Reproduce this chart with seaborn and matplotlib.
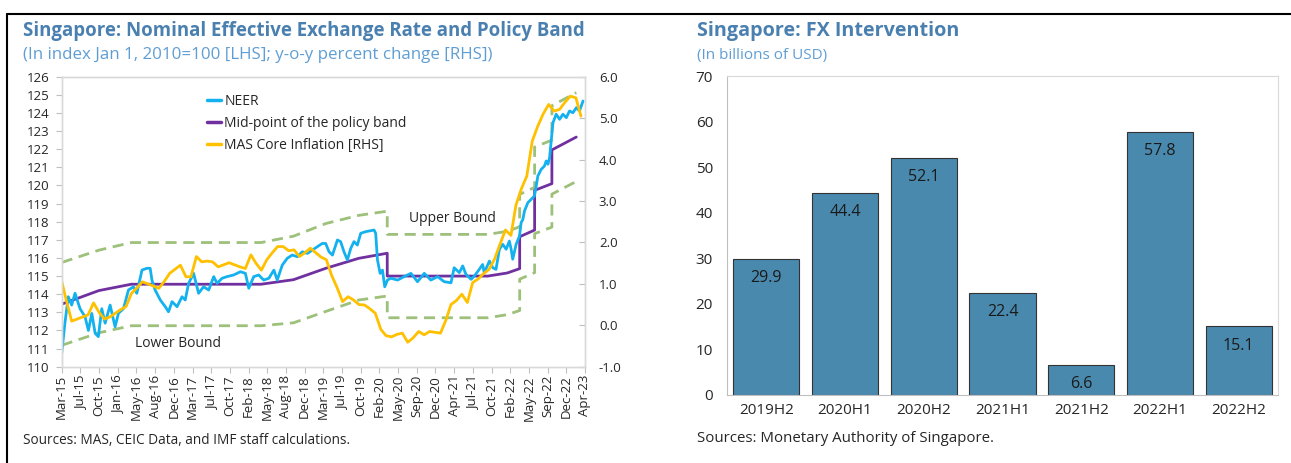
import numpy as np
import pandas as pd
import seaborn as sns
import matplotlib.pyplot as plt
import matplotlib.dates as mdates
from matplotlib.lines import Line2D

# ---------------- left panel data ----------------
neer_dates = [
    "2015-03-20", "2015-04-07", "2015-04-26", "2015-05-15", "2015-06-03", "2015-07-01",
    "2015-07-29", "2015-08-17", "2015-09-05", "2015-09-24", "2015-10-12", "2015-10-31",
    "2015-11-19", "2015-12-17", "2016-01-14", "2016-02-02", "2016-03-01", "2016-03-29",
    "2016-04-26", "2016-05-15", "2016-06-13", "2016-07-11", "2016-07-29", "2016-08-08",
    "2016-08-26", "2016-09-24", "2016-10-22", "2016-11-09", "2016-11-29", "2016-12-27",
    "2017-01-24", "2017-02-11", "2017-03-02", "2017-03-30", "2017-04-27", "2017-05-25",
    "2017-06-23", "2017-07-21", "2017-08-09", "2017-09-06", "2017-10-04", "2017-11-10",
    "2017-12-18", "2018-01-15", "2018-02-03", "2018-03-03", "2018-03-31", "2018-04-28",
    "2018-05-27", "2018-06-24", "2018-07-13", "2018-08-10", "2018-09-07", "2018-10-05",
    "2018-11-03", "2018-12-01", "2018-12-29", "2019-01-26", "2019-02-23", "2019-03-23",
    "2019-04-11", "2019-04-30", "2019-05-19", "2019-06-16", "2019-07-04", "2019-07-23",
    "2019-08-11", "2019-08-30", "2019-09-17", "2019-10-06", "2019-10-25", "2019-11-22",
    "2019-12-20", "2020-01-08", "2020-01-17", "2020-01-27", "2020-02-11", "2020-02-24",
    "2020-03-08", "2020-03-23", "2020-04-11", "2020-05-19", "2020-06-25", "2020-08-02",
    "2020-09-08", "2020-10-16", "2020-11-22", "2020-12-30", "2021-02-05", "2021-03-15",
    "2021-04-02", "2021-05-01", "2021-05-20", "2021-06-07", "2021-07-06", "2021-07-24",
    "2021-08-21", "2021-09-09", "2021-09-18", "2021-10-17", "2021-11-05", "2021-11-23",
    "2021-12-12", "2021-12-31", "2022-01-19", "2022-02-06", "2022-02-16", "2022-02-25",
    "2022-03-16", "2022-04-04", "2022-04-13", "2022-04-23", "2022-05-02", "2022-05-21",
    "2022-06-09", "2022-06-27", "2022-07-07", "2022-07-16", "2022-08-04", "2022-08-22",
    "2022-09-01", "2022-09-11", "2022-09-20", "2022-10-09", "2022-10-27", "2022-11-15",
    "2022-12-04", "2022-12-23", "2023-01-10", "2023-01-29", "2023-02-17", "2023-03-07",
    "2023-03-27",
]
neer_values = [
    110.74, 112.40, 113.86, 113.40, 114.05, 113.20,
    112.76, 112.00, 112.94, 111.84, 111.66, 113.20,
    112.40, 113.40, 112.20, 112.95, 113.20, 114.23,
    114.41, 114.05, 115.33, 115.43, 115.43, 114.78,
    114.23, 113.68, 113.31, 113.03, 113.59, 113.31,
    113.86, 113.68, 114.60, 115.15, 114.05, 114.41,
    114.23, 114.97, 114.60, 114.88, 114.97, 115.06,
    115.24, 115.15, 114.33, 114.97, 115.06, 114.78,
    114.88, 115.33, 114.78, 115.60, 115.98, 116.16,
    116.07, 116.34, 116.25, 116.43, 116.62, 116.80,
    116.80, 116.34, 116.16, 116.99, 116.90, 116.34,
    115.89, 116.53, 116.90, 116.71, 117.36, 117.45,
    117.50, 117.54, 117.36, 115.89, 115.15, 115.33,
    114.41, 114.78, 114.88, 114.78, 114.97, 115.15,
    114.69, 115.15, 114.78, 114.97, 114.69, 114.63,
    115.46, 115.19, 115.56, 115.10, 114.82, 115.00,
    115.37, 115.64, 115.19, 115.83, 115.46, 115.37,
    116.48, 116.75, 116.48, 116.93, 116.48, 115.93,
    116.75, 117.21, 117.94, 118.13, 118.59, 119.05,
    119.24, 119.42, 119.97, 120.52, 120.89, 121.07,
    121.35, 121.17, 121.53, 123.46, 123.93, 123.65,
    123.93, 123.74, 124.11, 124.01, 124.29, 124.11,
    124.66,
]

core_months = pd.date_range("2015-03-01", "2023-03-01", freq="MS")
core_inflation = [
    1.15, 0.60, 0.10, 0.15, 0.20, 0.25, 0.54, 0.32, 0.15, 0.20, 0.29, 0.38,
    0.45, 0.77, 0.90, 1.05, 1.00, 0.95, 0.89, 1.05, 1.25, 1.35, 1.45, 1.17,
    1.17, 1.66, 1.53, 1.55, 1.53, 1.41, 1.46, 1.51, 1.46, 1.41, 1.37, 1.70,
    1.50, 1.33, 1.58, 1.75, 1.90, 1.90, 1.80, 1.82, 1.66, 1.75, 1.86, 1.75,
    1.65, 1.58, 1.20, 0.90, 0.57, 0.69, 0.61, 0.50, 0.49, 0.40, 0.29, -0.10,
    -0.25, -0.28, -0.22, -0.19, -0.41, -0.30, -0.15, -0.23, -0.15, -0.17, -0.19, 0.13,
    0.50, 0.60, 0.75, 0.55, 1.03, 1.12, 1.25, 1.35, 1.60, 1.95, 2.30, 2.17,
    2.90, 3.30, 3.60, 4.45, 4.80, 5.10, 5.33, 5.17, 5.21, 5.38, 5.53, 5.49,
    5.05,
]

band_dates = [
    "2015-03-20", "2015-10-15", "2016-04-14", "2018-04-13", "2018-10-12", "2019-04-12",
    "2019-10-14", "2020-03-22", "2020-03-22", "2021-10-08", "2022-01-25", "2022-04-05",
    "2022-04-05", "2022-06-28", "2022-06-28", "2022-10-03", "2022-10-03", "2023-02-17",
]
band_mid = [
    113.45, 114.20, 114.55, 114.55, 114.80, 115.43,
    115.98, 116.26, 115.00, 115.00, 115.17, 115.41,
    117.17, 117.54, 119.73, 120.10, 121.96, 122.67,
]
band_upper = [
    115.75, 116.43, 116.85, 116.85, 117.20, 117.90,
    118.35, 118.58, 117.30, 117.30, 117.47, 117.72,
    119.51, 119.89, 122.12, 122.50, 124.40, 125.12,
]
band_lower = [
    111.18, 111.87, 112.26, 112.26, 112.42, 113.05,
    113.68, 113.90, 112.70, 112.70, 112.87, 113.10,
    114.83, 115.19, 117.34, 117.70, 119.52, 120.22,
]

# ---------------- right panel data ----------------
fx_periods = ["2019H2", "2020H1", "2020H2", "2021H1", "2021H2", "2022H1", "2022H2"]
fx_values = [29.9, 44.4, 52.1, 22.4, 6.6, 57.8, 15.1]

# ---------------- styling ----------------
sns.set_style("white")
plt.rcParams["font.family"] = ["Open Sans", "DejaVu Sans"]

TITLE_C = "#4A80B0"
SUB_C = "#5F9ED4"
NEER_C = "#14B1EF"
MID_C = "#7030A0"
INFL_C = "#FFC000"
BAND_C = "#9DC07A"
SPINE_C = "#D9D9D9"
BAR_C = "#4A89AE"

W, H = 1291, 463
fig = plt.figure(figsize=(W / 100, H / 100), dpi=100)

def px_axes(l, t, r, b):
    return fig.add_axes([l / W, 1 - b / H, (r - l) / W, (b - t) / H])

# frame lines around the panels
fig.add_artist(Line2D([7 / W, 1], [1 - 14 / H, 1 - 14 / H], color="black", lw=1.5))
fig.add_artist(Line2D([7 / W, 7 / W], [0, 1 - 14 / H], color="black", lw=1.5))

# ---------------- left panel ----------------
ax = px_axes(61.7, 76.7, 585, 366.7)
ax2 = ax.twinx()

bd = pd.to_datetime(band_dates)
for vals in (band_upper, band_lower):
    sns.lineplot(x=bd, y=vals, ax=ax, estimator=None, sort=False,
                 color=BAND_C, lw=2, dashes=False, linestyle=(0, (4, 2.4)))
sns.lineplot(x=bd, y=band_mid, ax=ax, estimator=None, sort=False, color=MID_C, lw=2)
sns.lineplot(x=pd.to_datetime(neer_dates), y=neer_values, ax=ax, estimator=None,
             color=NEER_C, lw=2)
sns.lineplot(x=core_months + pd.Timedelta(days=14), y=core_inflation, ax=ax2,
             estimator=None, color=INFL_C, lw=2)

x0, x1 = pd.Timestamp("2015-03-20"), pd.Timestamp("2023-04-07")
ax.set_xlim(x0, x1)
ax.set_ylim(110, 126)
ax.set_yticks(range(110, 127))
ax2.set_ylim(-1, 6)
ax2.set_yticks(range(-1, 7))
ax2.yaxis.set_major_formatter(plt.FuncFormatter(lambda v, p: f"{v:.1f}"))
ax.set_xticks(pd.date_range(x0, periods=29, freq="105D"))
ax.xaxis.set_major_formatter(mdates.DateFormatter("%b-%y"))
for lab in ax.get_xticklabels():
    lab.set_rotation(90)
ax.set_xlabel("")
ax.set_ylabel("")
ax2.set_ylabel("")

for a in (ax, ax2):
    for s in a.spines.values():
        s.set_color(SPINE_C)
        s.set_linewidth(1)
ax.tick_params(axis="y", length=4, color="#BFBFBF", labelsize=9.5, pad=5, left=True)
ax.tick_params(axis="x", length=4, color="#BFBFBF", labelsize=9.5, pad=2, bottom=True)
ax2.tick_params(axis="y", direction="in", length=4, color="#BFBFBF", labelsize=9.5,
                pad=10, right=True)

handles = [Line2D([], [], color=NEER_C, lw=2.5),
           Line2D([], [], color=MID_C, lw=2.5),
           Line2D([], [], color=INFL_C, lw=2.5)]
ax.legend(handles, ["NEER", "Mid-point of the policy band", "MAS Core Inflation [RHS]"],
          loc="upper left", bbox_to_anchor=(200 / W, 1 - 87 / H),
          bbox_transform=fig.transFigure, frameon=False, fontsize=10,
          handlelength=1.0, handletextpad=0.25, labelspacing=0.5, borderpad=0)

ax.text(pd.Timestamp("2021-03-21"), 118.2, "Upper Bound", ha="center", va="center",
        fontsize=10, color="#262626")
ax.text(pd.Timestamp("2017-01-03"), 111.3, "Lower Bound", ha="center", va="center",
        fontsize=10, color="#262626")

fig.text(23 / W, 1 - 31 / H, "Singapore: Nominal Effective Exchange Rate and Policy Band",
         fontsize=13.4, fontweight="bold", color=TITLE_C, va="center", ha="left")
fig.text(23 / W, 1 - 55 / H, "(In index Jan 1, 2010=100 [LHS]; y-o-y percent change [RHS])",
         fontsize=12.2, color=SUB_C, va="center", ha="left")
fig.text(23 / W, 1 - 440 / H, "Sources: MAS, CEIC Data, and IMF staff calculations.",
         fontsize=9.8, color="#262626", va="center", ha="left")

# ---------------- right panel ----------------
bx = px_axes(727, 76, 1278, 395)
sns.barplot(x=fx_periods, y=fx_values, ax=bx, color=BAR_C, saturation=1,
            edgecolor="#333333", linewidth=0.8, width=0.84)
for i, v in enumerate(fx_values):
    bx.annotate(f"{v:.1f}", (i, v), xytext=(0, -14), textcoords="offset points",
                ha="center", va="center", fontsize=11.5, color="#1a1a1a")
bx.set_ylim(0, 70)
bx.set_yticks(range(0, 71, 10))
bx.set_xlim(-0.5, 6.5)
bx.set_xlabel("")
bx.set_ylabel("")
for s in bx.spines.values():
    s.set_color(SPINE_C)
bx.spines["left"].set_color("#BFBFBF")
bx.spines["bottom"].set_color("#BFBFBF")
bx.tick_params(axis="both", length=0, labelsize=11, colors="#262626")
bx.tick_params(axis="y", pad=10)
bx.tick_params(axis="x", pad=6)

fig.text(697 / W, 1 - 31 / H, "Singapore: FX Intervention", fontsize=14.2,
         fontweight="bold", color=TITLE_C, va="center", ha="left")
fig.text(697 / W, 1 - 55 / H, "(In billions of USD)", fontsize=11, color=SUB_C,
         va="center", ha="left")
fig.text(697 / W, 1 - 438 / H, "Sources: Monetary Authority of Singapore.",
         fontsize=10.8, color="#262626", va="center", ha="left")

fig.savefig("out.png", dpi=100)
